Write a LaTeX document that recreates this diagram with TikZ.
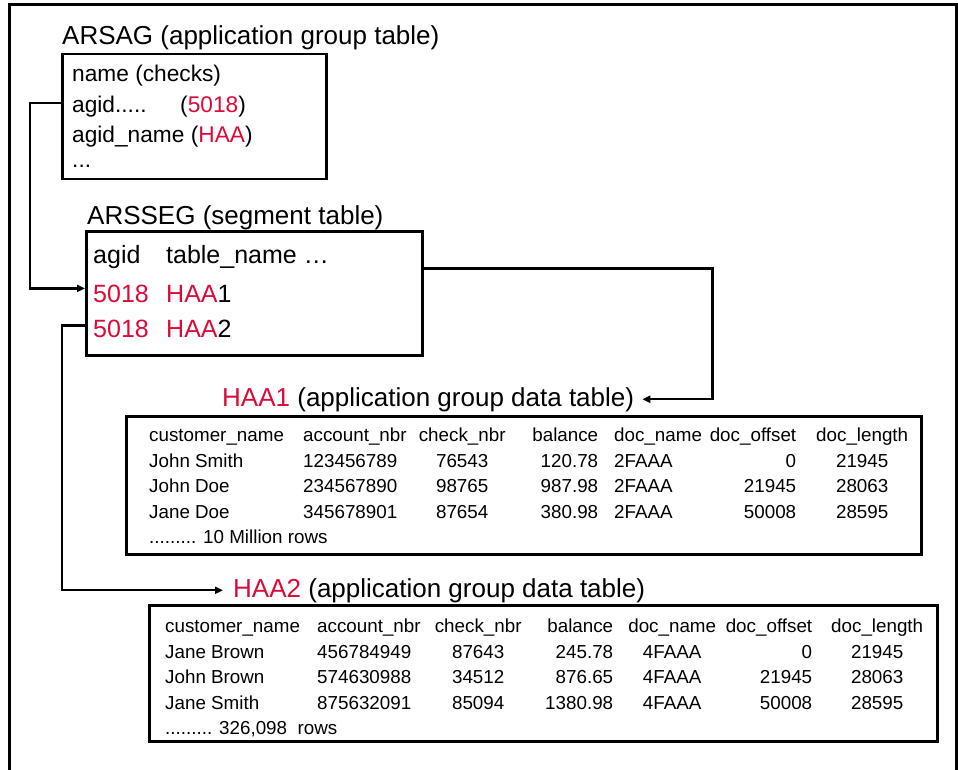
\documentclass[tikz,border=0pt]{standalone}
\usepackage{fontspec}
\setmainfont{Liberation Sans}
\usepackage{array}
\usetikzlibrary{arrows.meta,calc}
\definecolor{keyred}{rgb}{0.86,0.04,0.22}
\setlength{\tabcolsep}{0pt}

\newcommand{\titlesize}{\fontsize{26}{30}\selectfont}
\newcommand{\agsize}{\fontsize{22.7}{27}\selectfont}
\newcommand{\segsize}{\fontsize{25}{30}\selectfont}
\newcommand{\tabsize}{\fontsize{18.8}{25.4}\selectfont}
\newcommand{\key}[1]{\textcolor{keyred}{#1}}

\begin{document}
\begin{tikzpicture}[x=1pt,y=-1pt,
  tbox/.style={draw, line width=2.5pt, anchor=north west, inner sep=0pt},
  ttl/.style={anchor=base west, inner sep=0pt, font=\titlesize},
  agrow/.style={anchor=base west, inner sep=0pt, font=\agsize},
  segrow/.style={anchor=base west, inner sep=0pt, font=\segsize},
  datatab/.style={anchor=north west, inner sep=0pt, font=\tabsize},
  link/.style={line width=2.3pt, -{Triangle[length=8pt,width=7pt]}}]

  \useasboundingbox (0,0) rectangle (958,770);

  % Frame round the page (open at the bottom)
  \draw[line width=3pt] (9,770) -- (9,5) -- (956,5) -- (956,770);

  % ARSAG
  \node[ttl] (agttl) at (62,45) {ARSAG (application group table)};
  \node[tbox, minimum width=264pt, minimum height=125pt] (ag) at (61,53) {};
  \node[agrow] (agname) at (72,82) {name (checks)};
  \node[agrow] (agid) at (72,113) {\makebox[108pt][l]{agid.....}(\key{5018})};
  \node[agrow] (agidname) at (72,143) {agid\_name (\key{HAA})};
  \node[agrow] (agmore) at (72,168) {...};

  % ARSSEG
  \node[ttl] (segttl) at (87,225) {ARSSEG (segment table)};
  \node[tbox, minimum width=336pt, minimum height=124pt] (seg) at (85,230) {};
  \node[segrow] (seghead) at (93,263) {\makebox[73pt][l]{agid}table\_name \dots};
  \node[segrow] (segr1) at (93,302) {\makebox[73pt][l]{\key{5018}}\key{HAA}1};
  \node[segrow] (segr2) at (93,337) {\makebox[73pt][l]{\key{5018}}\key{HAA}2};

  % HAA1
  \node[ttl] (haa1ttl) at (222,406) {\key{HAA1} (application group data table)};
  \node[tbox, minimum width=795pt, minimum height=138pt] (haa1) at (125,415) {};
  \node[datatab] (haa1tab) at (149,424) {%
    \begin{tabular}{@{}w{l}{154pt}w{l}{117pt}w{c}{84pt}w{r}{94pt}@{\hspace{16pt}}w{l}{86pt}w{r}{96pt}w{c}{132pt}@{}}
      customer\_name & account\_nbr & check\_nbr & balance & doc\_name & doc\_offset & doc\_length\\
      John Smith & 123456789 & 76543 & 120.78 & 2FAAA & 0 & 21945\\
      John Doe & 234567890 & 98765 & 987.98 & 2FAAA & 21945 & 28063\\
      Jane Doe & 345678901 & 87654 & 380.98 & 2FAAA & 50008 & 28595\\
      \multicolumn{7}{@{}l}{......... 10 Million rows}
    \end{tabular}};

  % HAA2
  \node[ttl] (haa2ttl) at (233,597) {\key{HAA2} (application group data table)};
  \node[tbox, minimum width=788pt, minimum height=136pt] (haa2) at (148,604) {};
  \node[datatab] (haa2tab) at (165,615) {%
    \begin{tabular}{@{}w{l}{152pt}w{l}{118pt}w{c}{86pt}w{r}{92pt}@{\hspace{16pt}}w{c}{86pt}w{r}{97pt}w{c}{130pt}@{}}
      customer\_name & account\_nbr & check\_nbr & balance & doc\_name & doc\_offset & doc\_length\\
      Jane Brown & 456784949 & 87643 & 245.78 & 4FAAA & 0 & 21945\\
      John Brown & 574630988 & 34512 & 876.65 & 4FAAA & 21945 & 28063\\
      Jane Smith & 875632091 & 85094 & 1380.98 & 4FAAA & 50008 & 28595\\
      \multicolumn{7}{@{}l}{......... 326,098\ \ rows}
    \end{tabular}};

  % links between the tables
  \draw[link] ($(ag.west |- agid.center)+(0,-4)$) -- ++(-31,0)
    |- ($(seg.west |- segr1.center)+(0,-5)$);
  \draw[link] ($(seg.west |- segr2.center)+(0,-3)$) -- ++(-23,0)
    |- ($(haa2ttl.west)+(-10,0)$);
  \draw[link] (seg.east |- seghead.south) -- ++(289,0)
    |- ($(haa1ttl.east)+(8,0)$);

\end{tikzpicture}
\end{document}
